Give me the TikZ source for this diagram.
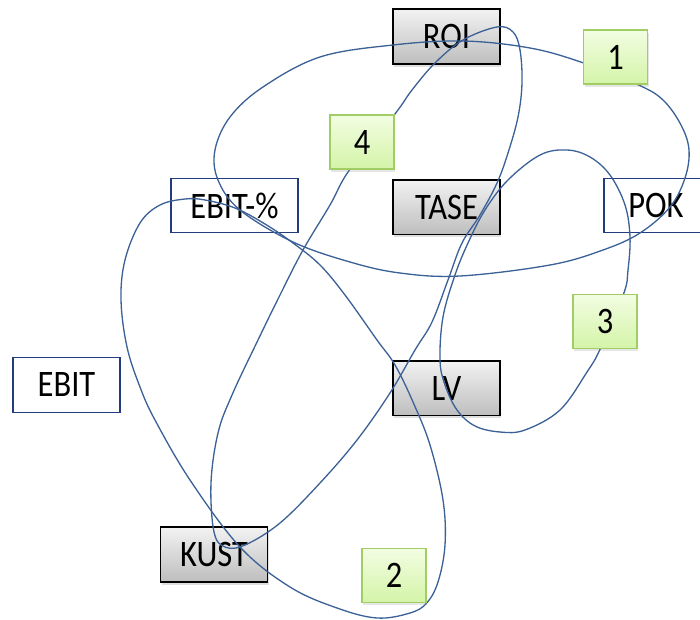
\documentclass[tikz,border=0pt]{standalone}
\usepackage{fontspec}
\setmainfont{Carlito}
\usepackage{graphicx}
\usepackage{tikz}
\usetikzlibrary{
  positioning,
  shadows
}
\definecolor{loopblue}{RGB}{60,97,150}
\definecolor{frameblue}{RGB}{35,60,125}
\definecolor{greenline}{RGB}{160,205,100}
\definecolor{greentop}{RGB}{242,253,226}
\definecolor{greenbot}{RGB}{212,244,168}
\definecolor{graytop}{RGB}{242,242,242}
\definecolor{graybot}{RGB}{190,190,190}
\pgfdeclarelayer{front}
\pgfsetlayers{main,front}
\newcommand{\boxlbl}[1]{\scalebox{1}[1.15]{#1}}
\tikzset{
  graybox/.style={
    rectangle, draw=black, line width=0.9pt,
    top color=graytop, bottom color=graybot,
    minimum width=2.14cm, minimum height=1.09cm, inner sep=0pt,
    font=\fontsize{18.5}{20}\selectfont,
    drop shadow={shadow xshift=0.6pt, shadow yshift=-1.6pt, opacity=0.25}
  },
  whitebox/.style={
    rectangle, draw=frameblue, line width=0.8pt, fill=white,
    minimum width=2.14cm, minimum height=1.09cm, inner sep=0pt,
    font=\fontsize{18.5}{20}\selectfont
  },
  numbox/.style={
    rectangle, draw=greenline, line width=0.7pt,
    top color=greentop, bottom color=greenbot,
    minimum width=1.28cm, minimum height=1.08cm, inner sep=0pt,
    font=\fontsize{18.5}{20}\selectfont,
    drop shadow={shadow xshift=0.6pt, shadow yshift=-1.6pt, opacity=0.2}
  },
  loopline/.style={draw=loopblue, line width=0.75pt},
}

\begin{document}
\begin{tikzpicture}[x=0.02cm, y=-0.02cm]

		\useasboundingbox (0,0) rectangle (700,619);
		\clip (0,0) rectangle (700,619);

		%% ── Gray boxes ──
		\node[graybox] (roi)  at (446.5,36.5) {\boxlbl{ROI}};
		\node[graybox, below=2.29cm of roi] (tase) {\boxlbl{TASE}};
		\node[graybox, below=2.5cm of tase] (lv)  {\boxlbl{LV}};
		\node[graybox] (kust) at (214,554.5)  {\boxlbl{KUST}};

		%% ── White boxes ──
		\node[whitebox, minimum width=2.54cm] (ebitp) at (234.5,205.5) {\boxlbl{EBIT-\%}};
		\node[whitebox, minimum width=2.08cm] (pok)   at (656,205.5)   {\boxlbl{POK}};
		\node[whitebox] (ebit) at (66.5,385) {\boxlbl{EBIT}};

		%% ── Numbered boxes (on top of the loops) ──
		\begin{pgfonlayer}{front}
			\node[numbox] (n1) at (615.5,57)  {\boxlbl{1}};
			\node[numbox] (n2) at (394,575.5) {\boxlbl{2}};
			\node[numbox] (n3) at (605,321.5) {\boxlbl{3}};
			\node[numbox] (n4) at (362,142)   {\boxlbl{4}};
		\end{pgfonlayer}

		%% ── Loop 1 ──
		\draw[loopline] plot[smooth cycle, tension=0.6] coordinates {
			(n1.190) (530,48) (463,41) (393,45) (320,57) (263,87) (230,117)
			(215,150) (218,180) (240,210) (293,242) (350,262) (400,273)
			(460,276) (550,265) (603,250) (640,233) (670,207) (685,178)
			(689,150) (681,125) (663,100) (n1.-51)};

		%% ── Loop 2 ──
		\draw[loopline] plot[smooth cycle, tension=0.6] coordinates {
			(n2.south east) (438,582) (445,545) (443,500) (430,445) (413,402)
			(395,365) (377,340) (345,295) (320,265) (293,243) (265,224)
			(235,208) (205,200) (185,199) (160,205) (140,223) (125,260)
			(121,300) (127,347) (140,387) (155,420) (190,480) (240,547)
			(290,587) (337,608) (377,618) (410,613)};

		%% ── Loop 3 ──
		\draw[loopline] plot[smooth cycle, tension=0.6] coordinates {
			(n3.56) (628,270) (630,237) (625,205) (610,175) (590,157)
			(567,150) (540,155) (508,180) (485,210) (468,243) (455,275)
			(443,317) (440,360) (445,385) (457,410) (475,426) (500,432)
			(525,430) (560,410) (587,372) (n3.-100)};

		%% ── Loop 4 ──
		\draw[loopline] plot[smooth cycle, tension=0.6] coordinates {
			(n4.north east) (412,90) (435,63) (463,40) (497,27) (513,32)
			(520,50) (522,83) (518,117) (508,153) (497,183) (480,215)
			(462,243) (448,280) (432,322) (415,350) (390,393) (357,440)
			(320,483) (280,523) (245,545) (225,547) (214,532) (211,483)
			(218,433) (232,395) (258,340) (280,295) (303,250) (330,205)
			(n4.-114)};

	\end{tikzpicture}
\end{document}
